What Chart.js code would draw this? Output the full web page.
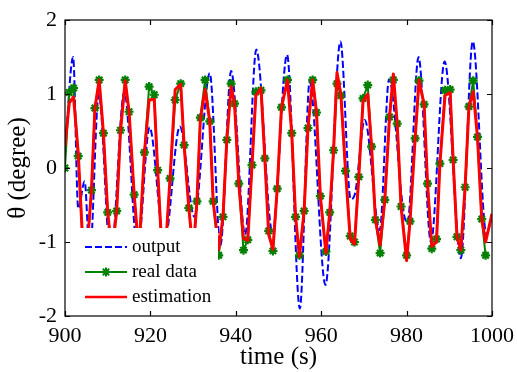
<!DOCTYPE html>
<html>
<head>
<meta charset="utf-8">
<script src="https://cdn.jsdelivr.net/npm/chart.js@4.4.1/dist/chart.umd.min.js"></script>
<style>
  html, body { margin: 0; padding: 0; background: #fff; }
</style>
</head>
<body>
<canvas id="thetaChart" width="517" height="372"></canvas>
<script>
// sample times (s) shared by "real data" and "estimation"
const sampleTime = [
  900.0, 901.0, 902.0, 903.1, 904.1, 905.1, 906.2, 907.0, 908.0, 909.0,
  910.0, 911.0, 912.1, 913.0, 914.1, 915.0, 916.2, 917.3, 918.6, 919.7,
  920.9, 921.7, 922.7, 923.7, 924.6, 925.8, 927.1, 927.9, 929.0, 930.0,
  930.9, 931.7, 932.8, 933.9, 934.7, 936.0, 937.0, 937.9, 938.9, 939.7,
  940.7, 941.8, 942.8, 943.8, 944.7, 945.9, 946.8, 947.7, 948.7, 949.7,
  950.7, 952.1, 953.1, 954.0, 954.9, 956.0, 956.9, 958.0, 958.9, 959.8,
  961.1, 962.0, 962.9, 963.7, 964.6, 965.7, 966.8, 967.8, 968.8, 969.8,
  970.9, 971.8, 972.7, 973.8, 974.9, 976.0, 976.9, 977.8, 978.7, 980.0,
  980.8, 982.0, 982.9, 984.1, 984.9, 985.9, 987.0, 987.8, 989.0, 990.2,
  990.9, 991.8, 992.7, 993.7, 994.6, 995.6, 996.6, 997.6, 998.5, 1000.0
];

const realData = [
  0.0, 1.02, 1.08, 0.16, -0.95, -1.15, -0.3, 0.81, 1.19, 0.47,
  -0.6, -1.15, -0.58, 0.51, 1.19, 0.76, -0.36, -1.15, 0.21, 1.1,
  0.99, -0.03, -1.12, -0.95, -0.14, 0.92, 1.14, 0.31, -0.54, -1.15,
  -0.45, 0.68, 1.19, 0.63, -0.45, -1.18, -0.66, 0.38, 1.14, 0.87,
  -0.21, -1.11, -0.97, 0.04, 1.03, 1.05, 0.13, -0.85, -1.12, -0.28,
  0.82, 1.19, 0.47, -0.66, -1.18, -0.58, 0.54, 1.19, 0.75, -0.38,
  -1.13, -0.6, 0.24, 1.14, 0.98, -0.04, -0.92, -1.0, -0.12, 0.94,
  1.12, 0.29, -0.7, -1.15, -0.43, 0.69, 1.19, 0.6, -0.52, -1.18,
  -0.72, 0.4, 1.18, 0.86, -0.21, -1.09, -0.96, 0.06, 1.05, 1.06,
  0.11, -0.93, -1.11, -0.26, 0.83, 1.18, 0.42, -0.69, -1.18, null
];

const estimation = [
  0.3, 0.88, 0.96, 0.2, -0.95, -1.15, -0.3, 0.8, 1.19, 0.47,
  -0.6, -1.15, -0.58, 0.5, 1.18, 0.76, -0.36, -1.15, 0.2, 0.92,
  0.93, -0.03, -1.12, -0.95, -0.14, 1.06, 1.13, 0.31, -0.54, -1.15,
  -0.45, 0.66, 1.06, 0.63, -0.45, -1.1, -0.66, 0.38, 1.1, 0.87,
  -0.21, -0.95, -0.98, 0.04, 0.98, 1.08, 0.13, -0.9, -1.1, -0.28,
  0.82, 1.19, 0.47, -0.66, -1.2, -0.58, 0.54, 1.19, 0.75, -0.38,
  -1.15, -0.6, 0.24, 1.29, 1.0, -0.04, -0.96, -1.03, -0.12, 0.9,
  1.0, 0.29, -0.7, -1.04, -0.43, 0.69, 1.27, 0.6, -0.52, -1.25,
  -0.72, 0.4, 1.19, 0.86, -0.21, -1.06, -1.0, 0.06, 0.98, 1.02,
  0.11, -0.93, -1.11, -0.26, 0.83, 1.03, 0.42, -0.69, -1.0, -0.62
];

// "output" curve: read at its turning points
const outputTime = [
  900.0, 901.9, 903.1, 904.6, 905.8, 907.9, 910.7, 913.9, 917.0, 919.8,
  923.3, 926.9, 930.3, 933.9, 936.4, 938.9, 942.2, 944.8, 948.6, 952.0,
  955.0, 957.3, 961.0, 964.5, 966.9, 967.9, 970.2, 973.7, 975.9, 979.3,
  980.2, 982.8, 985.7, 988.9, 992.7, 995.5, 998.7, 1000.0
];
const output = [
  0.2, 1.5, -0.55, -0.18, -1.2, 1.0, -1.2, 1.03, -1.1, 0.55,
  -1.0, 0.56, -0.66, 1.28, -1.05, 1.31, -0.9, 1.6, -0.88, 1.53,
  -1.9, 1.17, -1.58, 1.71, -0.42, -0.35, 0.65, -0.84, 1.2, -0.6,
  -0.74, 1.5, -1.0, 1.44, -1.22, 1.71, -0.9, -0.62
];

const xTicks = [900, 920, 940, 960, 980, 1000];
const yTicks = [-2, -1, 0, 1, 2];
const legendLabels = ["output", "real data", "estimation"];

const serif = "'Times New Roman', 'Liberation Serif', serif";
const BLUE = "#0000ff", GREEN = "#008000", RED = "#ff0000";

const toPoints = (xs, ys) => xs.map((x, i) => ({ x: x, y: ys[i] }));

// MATLAB style: white legend box inside the axes, full frame, inward ticks
const axesDecor = {
  id: "axesDecor",
  afterDatasetsDraw(chart) {
    const { ctx, chartArea: a, scales } = chart;
    ctx.save();

    // legend
    const box = { left: a.left, top: 228, right: 218, bottom: a.bottom };
    ctx.fillStyle = "#fff";
    ctx.fillRect(box.left, box.top, box.right - box.left, box.bottom - box.top);
    const rows = [247, 272, 297];
    const x0 = 85, x1 = 127;

    ctx.lineWidth = 2;
    ctx.strokeStyle = BLUE;
    ctx.setLineDash([7, 3]);
    ctx.beginPath(); ctx.moveTo(x0, rows[0]); ctx.lineTo(x1, rows[0]); ctx.stroke();
    ctx.setLineDash([]);

    ctx.strokeStyle = GREEN;
    ctx.beginPath(); ctx.moveTo(x0, rows[1]); ctx.lineTo(x1, rows[1]); ctx.stroke();
    ctx.fillStyle = GREEN;
    Chart.helpers.drawPoint(ctx, { pointStyle: "star", radius: 4.5, borderWidth: 2.2, rotation: 0 }, (x0 + x1) / 2, rows[1]);

    ctx.lineWidth = 2.5;
    ctx.strokeStyle = RED;
    ctx.beginPath(); ctx.moveTo(x0, rows[2]); ctx.lineTo(x1, rows[2]); ctx.stroke();

    ctx.fillStyle = "#000";
    ctx.font = "19px " + serif;
    ctx.textAlign = "left";
    ctx.textBaseline = "alphabetic";
    legendLabels.forEach((t, i) => ctx.fillText(t, 132, rows[i] + 5));

    // frame + ticks
    ctx.strokeStyle = "#000";
    ctx.lineWidth = 1.2;
    ctx.strokeRect(a.left, a.top, a.right - a.left, a.bottom - a.top);
    const len = 5;
    ctx.beginPath();
    xTicks.forEach(v => {
      const px = Math.round(scales.x.getPixelForValue(v)) + 0.5;
      ctx.moveTo(px, a.bottom); ctx.lineTo(px, a.bottom - len);
      ctx.moveTo(px, a.top); ctx.lineTo(px, a.top + len);
    });
    yTicks.forEach(v => {
      const py = Math.round(scales.y.getPixelForValue(v)) + 0.5;
      ctx.moveTo(a.left, py); ctx.lineTo(a.left + len, py);
      ctx.moveTo(a.right, py); ctx.lineTo(a.right - len, py);
    });
    ctx.stroke();
    ctx.restore();
  }
};

new Chart(document.getElementById("thetaChart"), {
  type: "line",
  data: {
    datasets: [
      {
        label: "estimation",
        data: toPoints(sampleTime, estimation),
        borderColor: RED,
        borderWidth: 3,
        borderJoinStyle: "round",
        pointRadius: 0,
        tension: 0,
        order: 0
      },
      {
        label: "real data",
        data: toPoints(sampleTime, realData),
        borderColor: GREEN,
        borderWidth: 2,
        borderJoinStyle: "round",
        pointStyle: "star",
        pointRadius: 4.5,
        pointBorderWidth: 2.2,
        pointBorderColor: GREEN,
        pointBackgroundColor: GREEN,
        tension: 0,
        order: 1
      },
      {
        label: "output",
        data: toPoints(outputTime, output),
        borderColor: BLUE,
        borderWidth: 2,
        borderDash: [7, 3],
        pointRadius: 0,
        cubicInterpolationMode: "monotone",
        order: 2
      }
    ]
  },
  options: {
    responsive: false,
    animation: false,
    devicePixelRatio: 1,
    layout: { padding: { top: 20, right: 25, bottom: 0, left: 0 } },
    plugins: {
      legend: { display: false },
      tooltip: { enabled: false }
    },
    scales: {
      x: {
        type: "linear",
        min: 900,
        max: 1000,
        afterBuildTicks: s => { s.ticks = xTicks.map(v => ({ value: v })); },
        afterFit: s => { s.height = 56; s.paddingLeft = 0; s.paddingRight = 0; },
        grid: { display: false, drawTicks: false },
        border: { display: false },
        ticks: {
          color: "#000",
          font: { family: serif, size: 22 },
          padding: 7,
          maxRotation: 0,
          autoSkip: false,
          callback: v => String(v)
        },
        title: {
          display: true,
          text: "time (s)",
          color: "#000",
          font: { family: serif, size: 25 },
          padding: { top: 0, bottom: 0 }
        }
      },
      y: {
        type: "linear",
        min: -2,
        max: 2,
        afterBuildTicks: s => { s.ticks = yTicks.map(v => ({ value: v })); },
        afterFit: s => { s.width = 65; s.paddingTop = 0; s.paddingBottom = 0; },
        grid: { display: false, drawTicks: false },
        border: { display: false },
        ticks: {
          color: "#000",
          font: { family: serif, size: 22 },
          padding: 8,
          callback: v => String(v)
        },
        title: {
          display: true,
          text: "θ (degree)",
          color: "#000",
          font: { family: serif, size: 25 },
          padding: { top: 3, bottom: 0 }
        }
      }
    }
  },
  plugins: [axesDecor]
});
</script>
</body>
</html>
